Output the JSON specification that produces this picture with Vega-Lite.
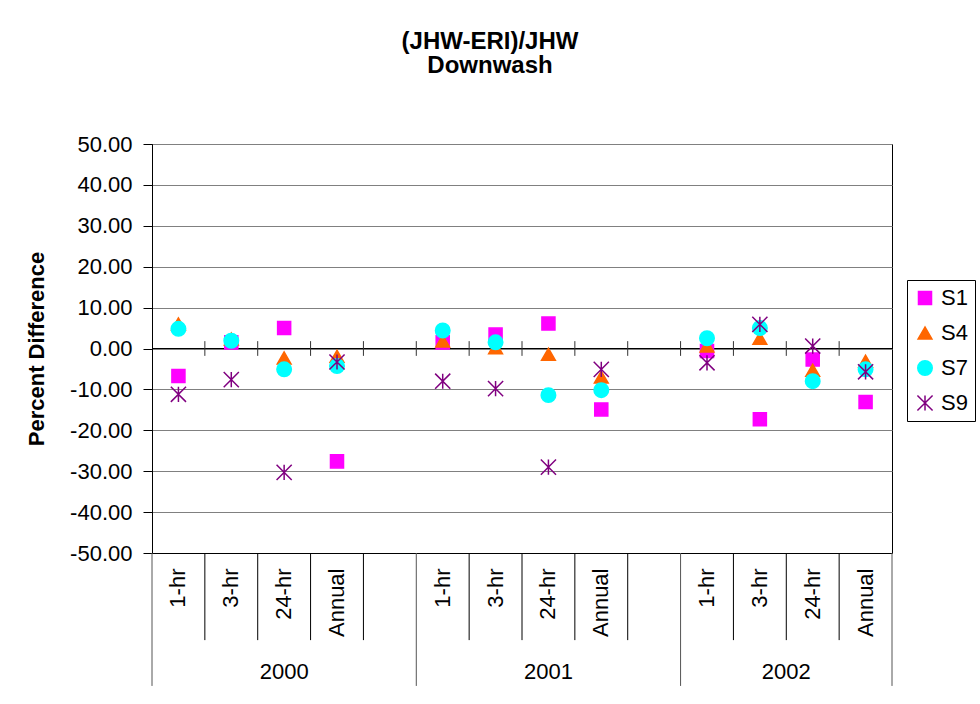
{
  "$schema": "https://vega.github.io/schema/vega-lite/v6.json",
  "width": 740,
  "height": 409,
  "autosize": {"type": "none"},
  "padding": {"left": 152, "top": 144, "right": 88, "bottom": 151},
  "background": "white",
  "title": {
    "text": ["(JHW-ERI)/JHW", "Downwash"],
    "font": "Liberation Sans",
    "fontSize": 24,
    "fontWeight": "bold",
    "lineHeight": 24.5,
    "anchor": "middle",
    "dx": -32,
    "offset": 31,
    "baseline": "bottom",
    "color": "black"
  },
  "datasets": {
    "points": [
      {"slot": "2000|1-hr", "series": "S1", "value": -6.7},
      {"slot": "2000|3-hr", "series": "S1", "value": 1.5},
      {"slot": "2000|24-hr", "series": "S1", "value": 5.0},
      {"slot": "2000|Annual", "series": "S1", "value": -27.6},
      {"slot": "2001|1-hr", "series": "S1", "value": 1.5},
      {"slot": "2001|3-hr", "series": "S1", "value": 3.4},
      {"slot": "2001|24-hr", "series": "S1", "value": 6.1},
      {"slot": "2001|Annual", "series": "S1", "value": -14.9},
      {"slot": "2002|1-hr", "series": "S1", "value": -0.6},
      {"slot": "2002|3-hr", "series": "S1", "value": -17.3},
      {"slot": "2002|24-hr", "series": "S1", "value": -2.7},
      {"slot": "2002|Annual", "series": "S1", "value": -13.1},
      {"slot": "2000|1-hr", "series": "S4", "value": 6.0},
      {"slot": "2000|3-hr", "series": "S4", "value": 2.3},
      {"slot": "2000|24-hr", "series": "S4", "value": -2.3},
      {"slot": "2000|Annual", "series": "S4", "value": -1.9},
      {"slot": "2001|1-hr", "series": "S4", "value": 1.8},
      {"slot": "2001|3-hr", "series": "S4", "value": 0.2},
      {"slot": "2001|24-hr", "series": "S4", "value": -1.4},
      {"slot": "2001|Annual", "series": "S4", "value": -7.0},
      {"slot": "2002|1-hr", "series": "S4", "value": 0.6},
      {"slot": "2002|3-hr", "series": "S4", "value": 2.5},
      {"slot": "2002|24-hr", "series": "S4", "value": -5.3},
      {"slot": "2002|Annual", "series": "S4", "value": -3.1},
      {"slot": "2000|1-hr", "series": "S7", "value": 4.8},
      {"slot": "2000|3-hr", "series": "S7", "value": 1.9},
      {"slot": "2000|24-hr", "series": "S7", "value": -5.1},
      {"slot": "2000|Annual", "series": "S7", "value": -4.3},
      {"slot": "2001|1-hr", "series": "S7", "value": 4.4},
      {"slot": "2001|3-hr", "series": "S7", "value": 1.5},
      {"slot": "2001|24-hr", "series": "S7", "value": -11.4},
      {"slot": "2001|Annual", "series": "S7", "value": -10.2},
      {"slot": "2002|1-hr", "series": "S7", "value": 2.5},
      {"slot": "2002|3-hr", "series": "S7", "value": 5.0},
      {"slot": "2002|24-hr", "series": "S7", "value": -8.0},
      {"slot": "2002|Annual", "series": "S7", "value": -5.1},
      {"slot": "2000|1-hr", "series": "S9", "value": -11.2},
      {"slot": "2000|3-hr", "series": "S9", "value": -7.6},
      {"slot": "2000|24-hr", "series": "S9", "value": -30.3},
      {"slot": "2000|Annual", "series": "S9", "value": -3.3},
      {"slot": "2001|1-hr", "series": "S9", "value": -8.0},
      {"slot": "2001|3-hr", "series": "S9", "value": -9.8},
      {"slot": "2001|24-hr", "series": "S9", "value": -29.0},
      {"slot": "2001|Annual", "series": "S9", "value": -5.1},
      {"slot": "2002|1-hr", "series": "S9", "value": -3.5},
      {"slot": "2002|3-hr", "series": "S9", "value": 5.9},
      {"slot": "2002|24-hr", "series": "S9", "value": 0.6},
      {"slot": "2002|Annual", "series": "S9", "value": -5.7}
    ],
    "slots": [
      {"slot": "2000|1-hr", "year": "2000", "period": "1-hr"},
      {"slot": "2000|3-hr", "year": "2000", "period": "3-hr"},
      {"slot": "2000|24-hr", "year": "2000", "period": "24-hr"},
      {"slot": "2000|Annual", "year": "2000", "period": "Annual"},
      {"slot": "2000|", "year": "2000", "period": ""},
      {"slot": "2001|1-hr", "year": "2001", "period": "1-hr"},
      {"slot": "2001|3-hr", "year": "2001", "period": "3-hr"},
      {"slot": "2001|24-hr", "year": "2001", "period": "24-hr"},
      {"slot": "2001|Annual", "year": "2001", "period": "Annual"},
      {"slot": "2001|", "year": "2001", "period": ""},
      {"slot": "2002|1-hr", "year": "2002", "period": "1-hr"},
      {"slot": "2002|3-hr", "year": "2002", "period": "3-hr"},
      {"slot": "2002|24-hr", "year": "2002", "period": "24-hr"},
      {"slot": "2002|Annual", "year": "2002", "period": "Annual"}
    ],
    "years": [
      {"year": "2000", "slot": "2000|24-hr"},
      {"year": "2001", "slot": "2001|24-hr"},
      {"year": "2002", "slot": "2002|24-hr"}
    ]
  },
  "layer": [
    {
      "data": {"name": "points"},
      "mark": {"type": "point", "opacity": 0, "filled": true},
      "encoding": {
        "x": {
          "field": "slot", "type": "nominal", "title": null,
          "scale": {"type": "band", "domain": ["2000|1-hr","2000|3-hr","2000|24-hr","2000|Annual","2000|","2001|1-hr","2001|3-hr","2001|24-hr","2001|Annual","2001|","2002|1-hr","2002|3-hr","2002|24-hr","2002|Annual"], "paddingInner": 0, "paddingOuter": 0},
          "axis": {
            "title": null,
            "labelExpr": "split(datum.value, '|')[1]",
            "labelAngle": 270,
            "labelAlign": "right",
            "labelBaseline": "middle",
            "labelFontSize": 22,
            "labelPadding": 15,
            "ticks": false,
            "tickSize": 0,
            "domainColor": "black",
            "grid": false
          }
        },
        "y": {
          "field": "value", "type": "quantitative", "title": "Percent Difference",
          "scale": {"domain": [-50, 50], "nice": false, "zero": false},
          "axis": {
            "values": [-50, -40, -30, -20, -10, 0, 10, 20, 30, 40, 50],
            "labelExpr": "(datum.value < 0 ? '-' : '') + format(abs(datum.value), '.2f')",
            "labelFontSize": 22,
            "labelPadding": 11,
            "tickSize": 9,
            "tickColor": "black",
            "domainColor": "black",
            "grid": true,
            "gridColor": "#808080",
            "gridOpacity": 1,
            "title": "Percent Difference",
            "titleFontSize": 22,
            "titleFontWeight": "bold",
            "titlePadding": 21
          }
        }
      }
    },
    {
      "data": {"values": [{"level": 0}]},
      "mark": {"type": "rule", "color": "black", "strokeWidth": 1},
      "encoding": {
        "y": {"field": "level", "type": "quantitative", "title": "Percent Difference", "scale": {"domain": [-50, 50], "nice": false, "zero": false}}
      }
    },
    {
      "data": {"name": "slots"},
      "transform": [{"filter": "datum.slot != '2000|1-hr'"}],
      "mark": {"type": "rule", "color": "#333333", "strokeWidth": 1},
      "encoding": {
        "x": {"field": "slot", "type": "nominal", "title": null, "bandPosition": 0, "scale": {"type": "band", "domain": ["2000|1-hr","2000|3-hr","2000|24-hr","2000|Annual","2000|","2001|1-hr","2001|3-hr","2001|24-hr","2001|Annual","2001|","2002|1-hr","2002|3-hr","2002|24-hr","2002|Annual"], "paddingInner": 0, "paddingOuter": 0}},
        "y": {"datum": -1.8, "type": "quantitative", "scale": {"domain": [-50, 50], "nice": false, "zero": false}},
        "y2": {"datum": 1.8}
      }
    },
    {
      "data": {"name": "slots"},
      "transform": [{"filter": "datum.period != '1-hr'"}],
      "mark": {"type": "rule", "color": "black", "strokeWidth": 1},
      "encoding": {
        "x": {"field": "slot", "type": "nominal", "title": null, "bandPosition": 0, "scale": {"type": "band", "domain": ["2000|1-hr","2000|3-hr","2000|24-hr","2000|Annual","2000|","2001|1-hr","2001|3-hr","2001|24-hr","2001|Annual","2001|","2002|1-hr","2002|3-hr","2002|24-hr","2002|Annual"], "paddingInner": 0, "paddingOuter": 0}},
        "y": {"datum": -50, "type": "quantitative", "scale": {"domain": [-50, 50], "nice": false, "zero": false}},
        "y2": {"datum": -71.3}
      }
    },
    {
      "data": {"name": "slots"},
      "transform": [{"filter": "datum.period == '1-hr'"}],
      "mark": {"type": "rule", "color": "#555555", "strokeWidth": 1},
      "encoding": {
        "x": {"field": "slot", "type": "nominal", "title": null, "bandPosition": 0, "scale": {"type": "band", "domain": ["2000|1-hr","2000|3-hr","2000|24-hr","2000|Annual","2000|","2001|1-hr","2001|3-hr","2001|24-hr","2001|Annual","2001|","2002|1-hr","2002|3-hr","2002|24-hr","2002|Annual"], "paddingInner": 0, "paddingOuter": 0}},
        "y": {"datum": -50, "type": "quantitative", "scale": {"domain": [-50, 50], "nice": false, "zero": false}},
        "y2": {"datum": -82.5}
      }
    },
    {
      "data": {"name": "slots"},
      "transform": [{"filter": "datum.slot == '2002|Annual'"}],
      "mark": {"type": "rule", "color": "#555555", "strokeWidth": 1},
      "encoding": {
        "x": {"field": "slot", "type": "nominal", "title": null, "bandPosition": 1, "scale": {"type": "band", "domain": ["2000|1-hr","2000|3-hr","2000|24-hr","2000|Annual","2000|","2001|1-hr","2001|3-hr","2001|24-hr","2001|Annual","2001|","2002|1-hr","2002|3-hr","2002|24-hr","2002|Annual"], "paddingInner": 0, "paddingOuter": 0}},
        "y": {"datum": -50, "type": "quantitative", "scale": {"domain": [-50, 50], "nice": false, "zero": false}},
        "y2": {"datum": -82.5}
      }
    },
    {
      "data": {"name": "years"},
      "transform": [{"filter": "datum.year != '2002'"}],
      "mark": {"type": "text", "font": "Liberation Sans", "fontSize": 22, "color": "black", "align": "center", "baseline": "middle"},
      "encoding": {
        "x": {"field": "slot", "type": "nominal", "title": null, "bandPosition": 0.5, "scale": {"type": "band", "domain": ["2000|1-hr","2000|3-hr","2000|24-hr","2000|Annual","2000|","2001|1-hr","2001|3-hr","2001|24-hr","2001|Annual","2001|","2002|1-hr","2002|3-hr","2002|24-hr","2002|Annual"], "paddingInner": 0, "paddingOuter": 0}},
        "y": {"datum": -79.1, "type": "quantitative", "scale": {"domain": [-50, 50], "nice": false, "zero": false}},
        "text": {"field": "year"}
      }
    },
    {
      "data": {"name": "years"},
      "transform": [{"filter": "datum.year == '2002'"}],
      "mark": {"type": "text", "font": "Liberation Sans", "fontSize": 22, "color": "black", "align": "center", "baseline": "middle"},
      "encoding": {
        "x": {"field": "slot", "type": "nominal", "title": null, "bandPosition": 0, "scale": {"type": "band", "domain": ["2000|1-hr","2000|3-hr","2000|24-hr","2000|Annual","2000|","2001|1-hr","2001|3-hr","2001|24-hr","2001|Annual","2001|","2002|1-hr","2002|3-hr","2002|24-hr","2002|Annual"], "paddingInner": 0, "paddingOuter": 0}},
        "y": {"datum": -79.1, "type": "quantitative", "scale": {"domain": [-50, 50], "nice": false, "zero": false}},
        "text": {"field": "year"}
      }
    },
    {
      "data": {"name": "points"},
      "mark": {"type": "point", "filled": true, "opacity": 1, "strokeWidth": 1.5},
      "encoding": {
        "x": {"field": "slot", "type": "nominal", "title": null, "scale": {"type": "band", "domain": ["2000|1-hr","2000|3-hr","2000|24-hr","2000|Annual","2000|","2001|1-hr","2001|3-hr","2001|24-hr","2001|Annual","2001|","2002|1-hr","2002|3-hr","2002|24-hr","2002|Annual"], "paddingInner": 0, "paddingOuter": 0}},
        "y": {"field": "value", "type": "quantitative", "title": "Percent Difference", "scale": {"domain": [-50, 50], "nice": false, "zero": false}},
        "color": {"field": "series", "type": "nominal", "scale": {"domain": ["S1", "S4", "S7", "S9"], "range": ["#FF00FF", "#FF6600", "#00FFFF", "#800080"]}},
        "stroke": {"field": "series", "type": "nominal", "scale": {"domain": ["S1", "S4", "S7", "S9"], "range": ["#FF00FF", "#FF6600", "#00FFFF", "#800080"]}},
        "shape": {"field": "series", "type": "nominal", "scale": {"domain": ["S1", "S4", "S7", "S9"], "range": ["square", "triangle-up", "circle", "M-1,-1L1,1M-1,1L1,-1M0,-1L0,1"]}},
        "size": {"field": "series", "type": "nominal", "scale": {"domain": ["S1", "S4", "S7", "S9"], "range": [170, 230, 200, 240]}}
      }
    }
  ],
  "config": {
    "font": "Liberation Sans",
    "view": {"stroke": "black", "strokeWidth": 1},
    "axis": {"labelFont": "Liberation Sans", "titleFont": "Liberation Sans", "labelColor": "black", "titleColor": "black"},
    "legend": {
      "orient": "none",
      "legendX": 755,
      "legendY": 136,
      "title": null,
      "labelFont": "Liberation Sans",
      "labelFontSize": 22,
      "labelColor": "black",
      "strokeColor": "black",
      "fillColor": "white",
      "padding": 7,
      "rowPadding": 13,
      "labelOffset": 5,
      "symbolStrokeWidth": 1.5,
      "symbolOpacity": 1
    }
  }
}
